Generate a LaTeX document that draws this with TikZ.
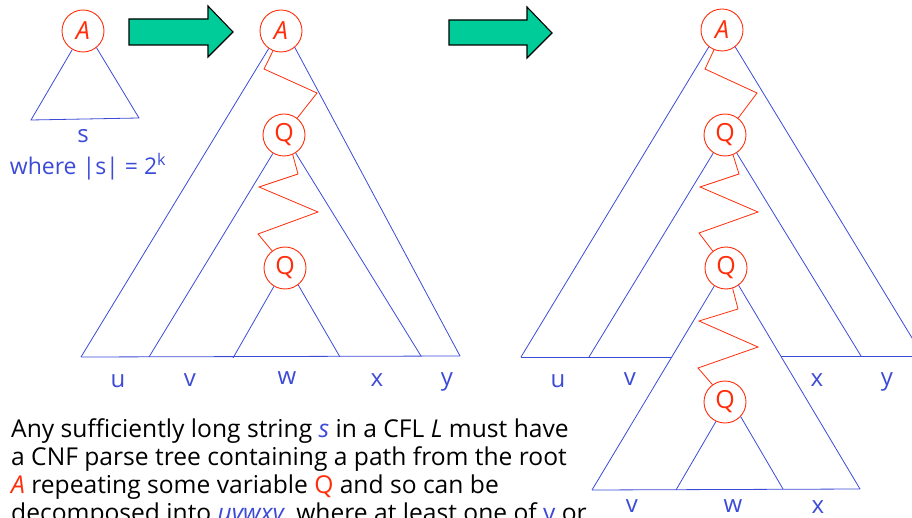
\documentclass[tikz,border=0pt]{standalone}
\usepackage{fontspec}
\setmainfont{Open Sans}
\definecolor{tblue}{RGB}{60,75,215}
\definecolor{tred}{RGB}{255,45,10}
\definecolor{tteal}{RGB}{0,204,153}
\begin{document}
\begin{tikzpicture}[x=1pt,y=-1pt,
  vnode/.style={circle,draw=tred,fill=white,line width=0.9pt,minimum size=42pt,inner sep=0pt,text=tred,font=\fontsize{25}{25}\selectfont},
  edge/.style={draw=tblue,line width=0.8pt},
  zig/.style={draw=tred,line width=0.8pt},
  lbl/.style={text=tblue,font=\fontsize{24}{24}\selectfont,inner sep=0pt},
  bigarrow/.style={fill=tteal,draw=black,line width=1.1pt,line join=miter},
  para/.style={anchor=base west,inner sep=0pt,font=\fontsize{24.6}{24.6}\selectfont}]
\useasboundingbox (0,0) rectangle (912,518);
\clip (0,0) rectangle (912,518);

% ---------- small tree ----------
\node[vnode] (a0) at (83,31) {\itshape A};
\coordinate (a0l) at (31,120);
\coordinate (a0r) at (139,118);
\draw[edge] (a0.-120) -- (a0l) -- (a0r) -- (a0.-51);
\node[lbl] (s0) at (83,136) {s};
\node[lbl,font=\fontsize{23}{23}\selectfont] (w0) at (88,167) {where |s| = 2\textsuperscript{k}};

% ---------- arrows ----------
\draw[bigarrow] (129,19) -- (208,19) -- (208,6) -- (233,32) -- (208,57) -- (208,45) -- (129,45) -- cycle;
\draw[bigarrow] (449,20) -- (527,20) -- (527,7) -- (552,33) -- (527,58) -- (527,45) -- (449,45) -- cycle;

% ---------- middle tree ----------
\node[vnode] (a1) at (281,31) {\itshape A};
\node[vnode] (q1) at (284,135) {Q};
\node[vnode] (q2) at (285,268) {Q};
\coordinate (b1l) at (81,357);
\coordinate (b1r) at (460,356);
\coordinate (m1l) at (149,357);
\coordinate (m1r) at (421,356);
\coordinate (i1l) at (233,358);
\coordinate (i1r) at (340,357);
\draw[edge] (a1.-125) -- (b1l);
\draw[edge] (a1.-50) -- (b1r);
\draw[edge] (b1l) -- (b1r);
\draw[edge] (q1.-121) -- (m1l);
\draw[edge] (q1.-57) -- (m1r);
\draw[edge] (q2.-121) -- (i1l);
\draw[edge] (q2.-52) -- (i1r);
\draw[zig] (a1.-112) -- (264,69) -- (317,93) -- (q1.52);
\draw[zig] (q1.-66) -- (298,174) -- (259,187) -- (318,212) -- (258,234) -- (q2.127);
\node[lbl] (u1) at (118,381) {u};
\node[lbl] (v1) at (190,380) {v};
\node[lbl] (w1) at (287,378) {w};
\node[lbl] (x1) at (377,380) {x};
\node[lbl] (y1) at (447,382) {y};

% ---------- right tree ----------
\node[vnode] (a2) at (722,30) {\itshape A};
\node[vnode] (p1) at (725,135) {Q};
\node[vnode] (p2) at (726,268) {Q};
\node[vnode] (p3) at (725,402) {Q};
\coordinate (b2l) at (521,357);
\coordinate (b2r) at (923,356);
\coordinate (m2l) at (589,357);
\coordinate (m2r) at (861,356);
\coordinate (c2l) at (672,357);
\coordinate (c2r) at (781,356);
\coordinate (l2l) at (592,490);
\coordinate (l2r) at (860,489);
\coordinate (i2l) at (676,490);
\coordinate (i2r) at (783,489);
\draw[edge] (a2.-128) -- (b2l);
\draw[edge] (a2.-52) -- (b2r);
\draw[edge] (b2l) -- (c2l);
\draw[edge] (c2r) -- (b2r);
\draw[edge] (p1.-123) -- (m2l);
\draw[edge] (p1.-57) -- (m2r);
\draw[edge] (p2.-123) -- (l2l);
\draw[edge] (p2.-54) -- (l2r);
\draw[edge] (l2l) -- (l2r);
\draw[edge] (p3.-115) -- (i2l);
\draw[edge] (p3.-43) -- (i2r);
\draw[zig] (a2.-112) -- (705,69) -- (757,93) -- (p1.52);
\draw[zig] (p1.-68) -- (739,174) -- (700,187) -- (758,212) -- (699,233) -- (p2.128);
\draw[zig] (p2.-72) -- (738,309) -- (699,321) -- (758,347) -- (698,368) -- (p3.126);
\node[lbl] (u2) at (558,381) {u};
\node[lbl] (v2) at (630,379) {v};
\node[lbl] (x2) at (817,380) {x};
\node[lbl] (y2) at (887,382) {y};
\node[lbl] (v3) at (632,506) {v};
\node[lbl] (w3) at (733,506) {w};
\node[lbl] (x3) at (818,507) {x};

% ---------- paragraph ----------
\node[para] (t1) at (11,437) {Any sufficiently long string \textcolor{tblue}{\itshape s} in a CFL \textit{L} must have};
\node[para] (t2) at (11,465) {a CNF parse tree containing a path from the root};
\node[para] (t3) at (11,493) {\textcolor{tred}{\itshape A} repeating some variable \textcolor{tred}{Q} and so can be};
\node[para] (t4) at (11,521) {decomposed into \textcolor{tblue}{\itshape uvwxy}, where at least one of \textcolor{tblue}{v} or};
\end{tikzpicture}
\end{document}
